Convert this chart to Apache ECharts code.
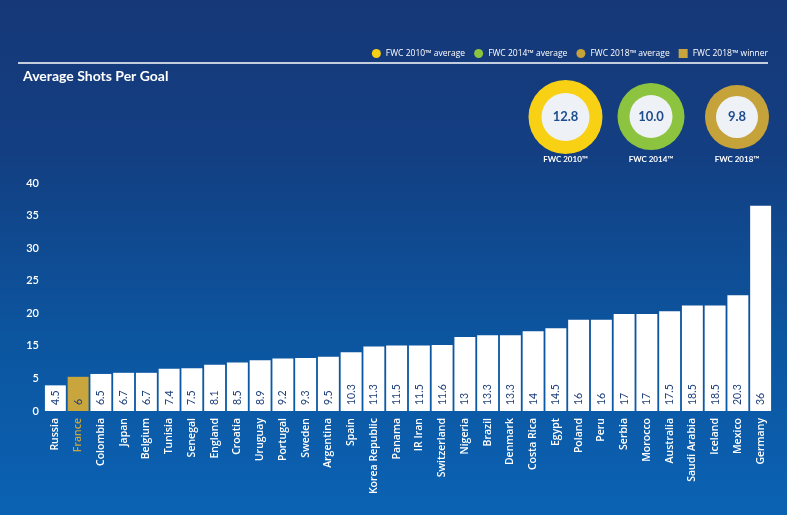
<!DOCTYPE html>
<html><head><meta charset="utf-8">
<script src="https://cdn.jsdelivr.net/npm/echarts@6/dist/echarts.min.js"></script>
<style>html,body{margin:0;padding:0;background:#0d4a94;}#c{width:787px;height:515px;}</style>
</head><body><div id="c"></div>
<script>
// ---- data ----
const countries = ['Russia','France','Colombia','Japan','Belgium','Tunisia','Senegal','England','Croatia','Uruguay','Portugal','Sweden','Argentina','Spain','Korea Republic','Panama','IR Iran','Switzerland','Nigeria','Brazil','Denmark','Costa Rica','Egypt','Poland','Peru','Serbia','Morocco','Australia','Saudi Arabia','Iceland','Mexico','Germany'];
const shotsPerGoal = [4.5,6,6.5,6.7,6.7,7.4,7.5,8.1,8.5,8.9,9.2,9.3,9.5,10.3,11.3,11.5,11.5,11.6,13,13.3,13.3,14,14.5,16,16,17,17,17.5,18.5,18.5,20.3,36];
const winner = 'France';
const yTickLabels = ['0','5','15','20','25','30','35','40'];
const yMax = 40;
const avgEditions = ['FWC 2010™','FWC 2014™','FWC 2018™'];
const avgValues = [12.8, 10.0, 9.8];
const winnerLegend = 'FWC 2018™ winner';
const chartTitle = 'Average Shots Per Goal';

// ---- styles ----
const GOLD = '#c9a53d';
const ringColors = ['#f8d115', '#8cc43f', '#c6a23b'];
const ringCenters = [[565.5,117],[651,116.5],[737,117]];
const ringOuter = [37, 33.5, 32];
const ringInner = [24, 21.5, 21];

const chart = echarts.init(document.getElementById('c'), null, {renderer:'canvas'});
const step = yMax / (yTickLabels.length - 1);

const pieSeries = [];
const graphics = [
  {type:'line', shape:{x1:18,y1:63,x2:768,y2:63}, style:{stroke:'#ffffff', lineWidth:1.5}}
];
avgEditions.forEach((ed, i) => {
  pieSeries.push({
    type:'pie', name: ed + ' average', center: ringCenters[i], radius:[0, ringOuter[i]],
    silent:true, animation:false, label:{show:false}, labelLine:{show:false},
    emphasis:{disabled:true},
    data:[{name: ed + ' average', value: avgValues[i], itemStyle:{color: ringColors[i]}}]
  });
  pieSeries.push({
    type:'pie', name: ed + ' value', center: ringCenters[i], radius:[0, ringInner[i]],
    silent:true, animation:false, labelLine:{show:false}, emphasis:{disabled:true},
    label:{show:true, position:'center', formatter: p => p.value.toFixed(1),
      color:'#1d4c8f', fontSize:13, fontWeight:'bold', fontFamily:'Lato'},
    data:[{name: ed + ' value', value: avgValues[i], itemStyle:{color:'#eef1f5'}}]
  });
  graphics.push({type:'text', x: ringCenters[i][0], y: 159,
    style:{text: ed, fill:'#ffffff', font:'bold 8px Lato', textAlign:'center', textVerticalAlign:'middle'}});
});

const option = {
  backgroundColor: {type:'linear', x:0, y:0, x2:0, y2:1, colorStops:[
    {offset:0, color:'#163878'}, {offset:0.3, color:'#133f82'}, {offset:0.65, color:'#0c559f'}, {offset:1, color:'#0b62b3'}]},
  animation:false,
  title:{text: chartTitle, left:18, top:64, textStyle:{color:'#ffffff', fontSize:14, fontWeight:'bold', fontFamily:'Lato'}},
  legend:{
    right:19, top:49, itemWidth:9, itemHeight:9, itemGap:9, padding:0,
    textStyle:{color:'#ffffff', fontSize:8.5, fontFamily:'Open Sans'},
    selectedMode:false,
    data: avgEditions.map((e, i) => ({name: e + ' average', icon:'circle', itemStyle:{color: ringColors[i]}}))
      .concat([{name: winnerLegend, icon:'rect', itemStyle:{color: GOLD}}])
  },
  graphic: graphics,
  grid:{left:44, right:15, top:183, bottom:104, containLabel:false},
  xAxis:{type:'category', data: countries,
    axisLine:{show:false}, axisTick:{show:false},
    axisLabel:{rotate:90, margin:7, interval:0, fontSize:10.5, fontWeight:600, fontFamily:'Open Sans',
      color: (v) => v === winner ? GOLD : '#ffffff'}},
  yAxis:{type:'value', min:0, max:yMax, interval:step,
    splitLine:{show:false}, axisLine:{show:false}, axisTick:{show:false},
    axisLabel:{margin:5, color:'#ffffff', fontSize:11, fontWeight:600, fontFamily:'Lato',
      formatter: v => yTickLabels[Math.round(v / step)] ?? ''}},
  series:[
    {type:'bar', name:'Average shots per goal', barCategoryGap:'8%', silent:true,
     data: shotsPerGoal.map((v,i) => ({value:v, itemStyle:{color: countries[i] === winner ? GOLD : '#ffffff'}})),
     label:{show:true, position:'insideBottom', distance:6, rotate:90, align:'left', verticalAlign:'middle',
       color:'#1b3d7a', fontSize:10.5, fontFamily:'Lato'}},
    {type:'line', name: winnerLegend, data:[], itemStyle:{color:GOLD}, lineStyle:{color:GOLD}}
  ].concat(pieSeries)
};
chart.setOption(option);
</script>
</body></html>
